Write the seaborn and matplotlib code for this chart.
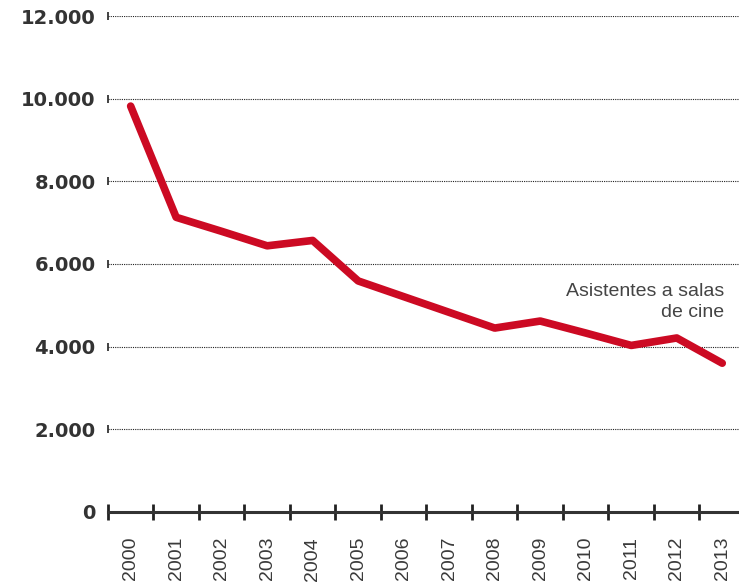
import numpy as np
import pandas as pd
import matplotlib
matplotlib.use("Agg")
import matplotlib.pyplot as plt
import matplotlib.ticker as mticker
import seaborn as sns

# Datos: asistentes a salas de cine (miles)
anios = [2000, 2001, 2002, 2003, 2004, 2005, 2006, 2007, 2008, 2009, 2010, 2011, 2012, 2013]
asistentes = [9820, 7130, 6790, 6440, 6570, 5590, 5210, 4830, 4450, 4620, 4330, 4030, 4210, 3600]
y_ticks = [0, 2000, 4000, 6000, 8000, 10000, 12000]
etiqueta = "Asistentes a salas\nde cine"

df = pd.DataFrame({"anio": anios, "asistentes": asistentes})

sns.set_style("white")
plt.rcParams["font.family"] = ["Liberation Sans", "DejaVu Sans"]

fig = plt.figure(figsize=(7.39, 5.84), dpi=100)
ax = fig.add_axes([0.146, 0.1233, 0.854, 0.8493])

sns.lineplot(data=df, x="anio", y="asistentes", ax=ax, color="#cc0a23",
             linewidth=5.5, solid_capstyle="round", zorder=3)

x0 = anios[0] - 0.5
ax.set_xlim(x0, anios[0] - 0.5 + 631 / 45.5)
ax.set_ylim(0, 12000)

# rejilla punteada
ax.set_yticks(y_ticks)
for v in y_ticks[1:]:
    ax.axhline(v, color="#222222", linestyle=(0, (1, 1)), linewidth=0.8, zorder=1)
ax.plot([x0] * (len(y_ticks) - 1), y_ticks[1:], marker="|", linestyle="none",
        color="#222222", markersize=6, markeredgewidth=1.2, clip_on=False, zorder=2)

ax.yaxis.set_major_formatter(mticker.FuncFormatter(lambda v, p: f"{int(v):,}".replace(",", ".")))
ax.tick_params(axis="y", length=0, pad=9)
for lab in ax.get_yticklabels():
    lab.set_fontfamily("DejaVu Sans")
    lab.set_fontweight("bold")
    lab.set_fontsize(14)
    lab.set_color("#333333")

# eje x: etiquetas en el centro, marcas en los límites
ax.set_xticks(anios)
ax.set_xticklabels([str(a) for a in anios], rotation=90, fontsize=14, color="#3a3a3a")
ax.tick_params(axis="x", which="major", length=0, pad=18)
ax.set_xticks([a - 0.5 for a in anios], minor=True)
ax.tick_params(axis="x", which="minor", bottom=True, direction="inout", length=11,
               width=2, color="#222222")

for s in ["top", "right", "left"]:
    ax.spines[s].set_visible(False)
ax.spines["bottom"].set_color("#333333")
ax.spines["bottom"].set_linewidth(2.2)

ax.set_xlabel("")
ax.set_ylabel("")

ax.text(anios[-1] + 0.05, 5530, etiqueta, ha="right", va="top", fontsize=14,
        color="#444444", linespacing=1.3)

fig.savefig("out.png", dpi=100)
